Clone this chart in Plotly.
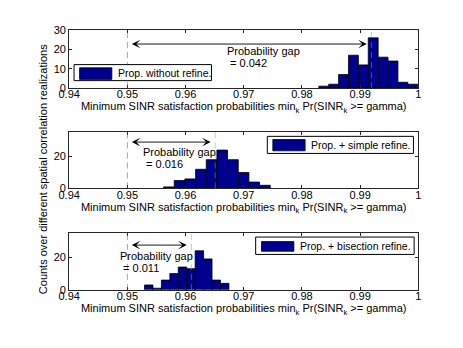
import plotly.graph_objects as go

# ---------------- data ----------------
x_ticks = [0.94, 0.95, 0.96, 0.97, 0.98, 0.99, 1.0]
x_tick_labels = ["0.94", "0.95", "0.96", "0.97", "0.98", "0.99", "1"]

# Panel 1: Prop. without refine.
centers_1 = [0.98375, 0.98545, 0.98715, 0.98885, 0.99055, 0.99225, 0.99395, 0.99565, 0.99735, 0.99905]
counts_1 = [1, 2, 7, 17, 12, 26, 16, 14, 3, 2]
width_1 = 0.0017
achieved_1 = 0.99195
gap_1 = "0.042"

# Panel 2: Prop. + simple refine.
centers_2 = [0.95714, 0.95897, 0.96080, 0.96264, 0.96447, 0.96630, 0.96814, 0.96997, 0.97180, 0.97364]
counts_2 = [1, 5, 6, 12, 18, 24, 18, 10, 4, 2]
width_2 = 0.001833
achieved_2 = 0.9651
gap_2 = "0.016"

# Panel 3: Prop. + bisection refine.
centers_3 = [0.953675, 0.955125, 0.956575, 0.958025, 0.959475, 0.960925, 0.962375, 0.963825, 0.965275, 0.966725]
counts_3 = [3, 1, 6, 10, 14, 13, 24, 19, 6, 4]
width_3 = 0.00145
achieved_3 = 0.961
gap_3 = "0.011"

target = 0.95
legend_names = ["Prop. without refine.", "Prop. + simple refine.", "Prop. + bisection refine."]
y_ranges = [[0, 30], [0, 35], [0, 35]]
y_ticks = [[0, 10, 20, 30], [0, 20], [0, 20]]

x_title = "Minimum SINR satisfaction probabilities min<sub>k</sub> Pr(SINR<sub>k</sub> >= gamma)"
y_title = "Counts over different spatial correlation realizations"

# ---------------- layout helpers ----------------
W, H = 463, 348
def px(x):
    return x / W
def py(y):
    return 1 - y / H

FONT = "Liberation Sans, Arial, Helvetica, sans-serif"
NAVY = "rgb(0,0,143)"
AXC = "#262626"

panels = [
    dict(c=centers_1, n=counts_1, w=width_1, a=achieved_1, g=gap_1, top=25, bot=85,
         arrow_y=22.8, t1=(0.9668, 19.2), t2=(0.9668, 12.9),
         leg=dict(box=(65, 60.7, 206.7, 77.3), patch=(70.7, 64, 104, 76), text=(108.3, 69))),
    dict(c=centers_2, n=counts_2, w=width_2, a=achieved_2, g=gap_2, top=131, bot=189,
         arrow_y=29.0, t1=(0.95238, 22.9), t2=(0.95238, 15.5),
         leg=dict(box=(264.3, 135, 415, 152.7), patch=(270, 138.3, 303.3, 150), text=(307.7, 144.3))),
    dict(c=centers_3, n=counts_3, w=width_3, a=achieved_3, g=gap_3, top=235, bot=294,
         arrow_y=27.5, t1=(0.94845, 20.8), t2=(0.94845, 13.2),
         leg=dict(box=(252.3, 239.3, 415.7, 257.3), patch=(258.3, 244, 291.7, 254), text=(296, 248.5))),
]

fig = go.Figure()
shapes = []
annotations = []
layout = {}

for i, p in enumerate(panels):
    k = "" if i == 0 else str(i + 1)
    xa, ya = "x" + k, "y" + k
    fig.add_trace(go.Bar(
        x=p["c"], y=p["n"], width=p["w"], xaxis=xa, yaxis=ya,
        marker=dict(color=NAVY, line=dict(color="black", width=0.8)),
        showlegend=False, hoverinfo="skip"))

    layout["xaxis" + k] = dict(
        domain=[px(60), px(420)], range=[0.94, 1.0], anchor=ya,
        tickvals=x_ticks, ticktext=x_tick_labels, ticks="inside", ticklen=3,
        tickcolor=AXC, showline=True, linecolor=AXC, linewidth=1, mirror="ticks",
        ticklabelstandoff=-4,
        showgrid=False, zeroline=False, tickfont=dict(size=11, color="black", family=FONT),
        title=dict(text=x_title, font=dict(size=11, color="black", family=FONT), standoff=3),
    )
    layout["yaxis" + k] = dict(
        domain=[py(p["bot"]), py(p["top"])], range=y_ranges[i], anchor=xa,
        tickvals=y_ticks[i], ticks="inside", ticklen=3, tickcolor=AXC,
        showline=True, linecolor=AXC, linewidth=1, mirror="ticks",
        showgrid=False, zeroline=False, tickfont=dict(size=11, color="black", family=FONT),
    )

    # vertical reference lines (target and achieved)
    for xv, col in [(target, "rgba(255,0,0,0.5)"), (p["a"], "rgba(0,255,0,0.5)")]:
        shapes.append(dict(type="line", xref=xa, yref=ya + " domain", x0=xv, x1=xv, y0=0, y1=1,
                           line=dict(color=col, width=1, dash="6px,4px"), layer="above"))

    # double-headed arrow
    annotations.append(dict(
        x=p["a"] - 0.0008, y=p["arrow_y"], ax=target + 0.0005, ay=p["arrow_y"],
        xref=xa, yref=ya, axref=xa, ayref=ya, text="", showarrow=True,
        arrowhead=3, startarrowhead=3, arrowside="end+start", arrowsize=1.6,
        startarrowsize=1.6, arrowwidth=0.9, arrowcolor="black", standoff=0, startstandoff=0))
    annotations.append(dict(x=p["t1"][0], y=p["t1"][1], xref=xa, yref=ya, text="Probability gap",
                            showarrow=False, xanchor="left", yanchor="middle",
                            font=dict(size=11, color="black", family=FONT)))
    annotations.append(dict(x=p["t2"][0], y=p["t2"][1], xref=xa, yref=ya, text="&nbsp;= " + p["g"],
                            showarrow=False, xanchor="left", yanchor="middle",
                            font=dict(size=11, color="black", family=FONT)))

    # legend box
    L = p["leg"]
    bx0, by0, bx1, by1 = L["box"]
    shapes.append(dict(type="rect", xref="paper", yref="paper", x0=px(bx0), x1=px(bx1),
                       y0=py(by1), y1=py(by0), fillcolor="white",
                       line=dict(color="black", width=1), layer="above"))
    qx0, qy0, qx1, qy1 = L["patch"]
    shapes.append(dict(type="rect", xref="paper", yref="paper", x0=px(qx0), x1=px(qx1),
                       y0=py(qy1), y1=py(qy0), fillcolor=NAVY,
                       line=dict(color="black", width=0.8), layer="above"))
    annotations.append(dict(x=px(L["text"][0]), y=py(L["text"][1]), xref="paper", yref="paper",
                            text=legend_names[i], showarrow=False, xanchor="left", yanchor="middle",
                            font=dict(size=10.5, color="black", family=FONT)))

annotations.append(dict(x=px(33), y=py(169), xref="paper", yref="paper", text=y_title,
                        textangle=-90, showarrow=False, xanchor="center", yanchor="middle",
                        font=dict(size=11, color="black", family=FONT)))

fig.update_layout(
    width=W, height=H, margin=dict(l=0, r=0, t=0, b=0),
    paper_bgcolor="white", plot_bgcolor="white", bargap=0,
    font=dict(family=FONT, size=11, color="black"),
    shapes=shapes, annotations=annotations, **layout)

fig.write_html("out.html",
               config={"displayModeBar": False, "staticPlot": True},
               post_script="document.body.style.margin='0';document.body.style.overflow='hidden';")
